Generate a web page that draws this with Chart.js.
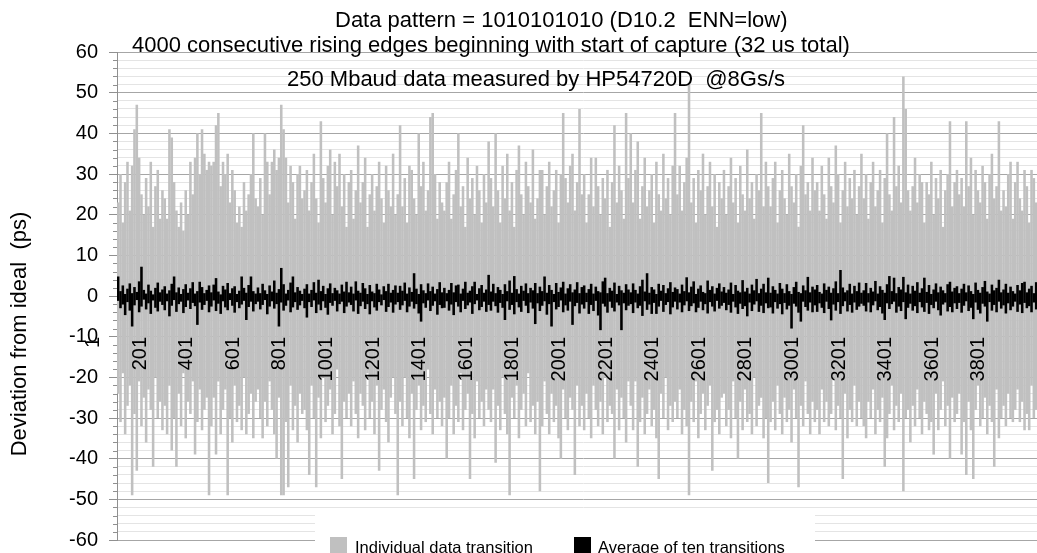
<!DOCTYPE html>
<html><head><meta charset="utf-8">
<script src="https://cdn.jsdelivr.net/npm/chart.js@4.4.0/dist/chart.umd.min.js"></script>
<style>
html,body{margin:0;padding:0;overflow:hidden;background:#fff;width:1037px;height:553px}
#wrap{position:absolute;left:0;top:0;width:1060px;height:570px}
</style>
</head><body><div id="wrap"><canvas id="c" width="1060" height="570"></canvas></div>
<script>
// each bin = 10 consecutive rising edges (400 bins = 4000 edges); values in ps
const grayHigh = [
23,30,18,28,33,21,32,41,47,34,25,20,29,22,33,17,27,31,19,26,
24,19,41,39,28,21,17,23,16,26,20,33,25,34,40,30,41,35,31,33,
32,33,42,45,27,33,30,35,23,31,26,18,22,17,28,21,25,30,40,24,
22,29,20,40,33,25,33,36,31,34,47,41,34,23,32,28,19,30,32,24,
26,31,21,28,35,24,18,43,29,23,32,36,20,33,27,35,22,30,17,28,
31,19,26,37,23,28,34,17,25,30,21,27,33,24,18,32,26,22,35,20,
25,42,22,29,18,32,31,24,20,40,27,33,21,26,44,45,30,19,28,23,
21,28,33,19,25,31,40,22,27,17,34,24,29,20,32,26,18,30,23,38,
29,22,40,26,18,32,24,35,21,28,17,31,37,25,20,33,27,23,36,19,
24,31,31,20,27,33,22,26,31,18,30,45,29,23,32,35,21,28,46,25,
30,18,25,34,22,34,27,20,29,24,31,17,28,42,23,32,26,19,45,29,
40,23,31,38,19,27,34,22,26,30,18,33,25,21,35,24,29,20,32,45,
25,32,21,28,34,52,23,29,18,31,26,35,20,27,33,22,30,17,28,24,
31,20,27,34,23,29,18,32,25,21,36,24,28,19,30,26,45,22,33,27,
22,29,33,18,26,31,24,20,35,27,23,30,17,32,42,25,28,21,34,26,
28,21,32,25,19,34,27,23,37,30,18,26,33,22,29,24,31,20,27,35,
24,30,19,28,33,22,26,31,18,29,40,25,21,44,27,32,23,54,46,26,
21,27,34,23,30,28,18,28,25,33,20,29,24,31,17,26,30,43,22,28,
31,25,29,22,43,27,34,20,31,26,23,32,28,19,30,35,24,27,43,21,
26,22,30,33,19,28,33,24,21,31,27,18,31,29,23,32,25,20,28,24];
const grayLow = [
-24,-31,-19,-34,-27,-22,-49,-29,-43,-21,-32,-25,-36,-23,-28,-42,-20,-30,-26,-33,
-27,-34,-22,-38,-30,-42,-24,-32,-19,-35,-26,-29,-21,-39,-31,-23,-33,-28,-25,-49,
-32,-25,-39,-21,-34,-28,-23,-49,-30,-36,-22,-31,-27,-33,-20,-34,-29,-24,-35,-26,
-23,-30,-35,-26,-32,-21,-28,-34,-40,-25,-49,-49,-31,-47,-22,-33,-27,-36,-24,-29,
-28,-33,-44,-22,-30,-47,-25,-35,-20,-31,-27,-23,-34,-29,-18,-32,-45,-26,-30,-24,
-32,-21,-29,-35,-24,-27,-33,-19,-30,-26,-34,-22,-43,-28,-23,-31,-36,-25,-20,-29,
-49,-26,-32,-20,-30,-35,-24,-45,-28,-22,-33,-27,-31,-18,-29,-34,-23,-30,-26,-32,
-25,-40,-30,-22,-34,-27,-31,-19,-33,-28,-24,-45,-29,-35,-21,-30,-26,-32,-23,-28,
-31,-23,-41,-27,-33,-20,-29,-34,-49,-25,-30,-22,-35,-28,-24,-32,-19,-31,-27,-34,
-26,-48,-32,-21,-29,-34,-24,-31,-27,-35,-40,-23,-30,-33,-25,-28,-44,-22,-32,-27,
-33,-24,-30,-35,-22,-28,-32,-26,-34,-20,-31,-27,-29,-40,-23,-33,-25,-30,-36,-21,
-27,-33,-21,-42,-31,-25,-34,-29,-23,-32,-28,-35,-45,-24,-30,-20,-33,-27,-31,-26,
-30,-23,-34,-28,-32,-49,-26,-31,-21,-35,-29,-24,-33,-27,-22,-43,-31,-28,-34,-25,
-24,-32,-28,-35,-21,-30,-40,-26,-33,-23,-31,-29,-34,-20,-32,-27,-25,-35,-30,-46,
-31,-26,-33,-22,-29,-34,-25,-31,-28,-36,-23,-30,-47,-27,-32,-21,-29,-34,-26,-31,
-28,-34,-23,-31,-26,-32,-29,-20,-33,-27,-30,-45,-24,-35,-28,-31,-22,-32,-26,-30,
-32,-35,-26,-30,-23,-34,-28,-31,-25,-42,-35,-29,-22,-33,-27,-31,-24,-48,-30,-28,
-36,-27,-32,-23,-30,-34,-26,-29,-33,-31,-39,-24,-33,-28,-21,-32,-27,-40,-25,-31,
-29,-24,-39,-31,-44,-26,-33,-45,-28,-22,-32,-30,-25,-34,-27,-31,-42,-23,-35,-30,
-27,-32,-24,-30,-31,-28,-23,-31,-26,-33,-29,-33,-22,-30,-28,-25,-32,-29,-24,-31];
const avgHigh = [
4.8,1.2,2.6,0.5,1.8,3.1,0.7,2.2,1.0,3.6,7.2,1.5,0.6,2.8,1.3,0.4,2.0,3.3,0.9,1.6,
2.4,0.6,1.4,3.0,4.8,0.9,2.1,0.5,1.7,2.9,0.8,1.9,3.4,0.6,1.2,3.5,2.2,0.7,1.5,2.6,
0.9,2.8,4.4,1.1,0.4,2.5,1.6,3.2,0.7,1.9,2.4,0.5,1.3,4.8,2.0,0.8,2.7,4.8,1.2,0.6,
2.1,0.7,3.0,1.4,0.5,2.6,1.1,3.8,0.8,1.7,6.9,2.9,0.6,1.5,3.3,4.8,0.9,2.2,1.3,0.5,
1.8,2.9,0.6,1.5,3.4,0.8,4.0,1.2,2.5,0.5,1.9,3.1,0.7,2.0,1.4,0.6,2.8,1.1,3.5,0.9,
2.3,0.6,3.6,1.3,0.8,3.2,1.9,0.5,2.7,1.1,0.7,3.0,1.6,0.4,2.4,1.2,3.0,0.8,1.5,2.6,
0.8,2.5,1.3,3.3,0.6,2.1,1.0,5.6,1.8,0.5,2.9,1.4,0.7,3.1,1.2,2.3,0.6,1.7,3.4,0.9,
2.0,0.7,1.5,3.2,0.9,2.6,2.8,0.6,1.8,3.5,0.8,1.3,2.4,3.5,0.5,1.9,2.7,0.8,1.6,5.2,
1.1,3.0,0.7,2.2,1.5,0.5,2.9,1.2,3.8,0.8,4.9,1.7,0.6,2.5,1.3,3.1,0.7,2.0,1.4,3.2,
0.7,2.3,1.2,4.8,0.8,2.7,1.5,0.5,3.2,1.0,2.1,3.5,0.6,1.9,2.9,0.9,1.6,3.4,0.7,2.2,
2.6,0.8,1.7,3.0,0.6,2.3,1.2,0.9,3.6,4.5,0.7,2.0,1.3,3.3,0.5,2.5,1.4,0.8,2.9,1.6,
0.9,3.1,1.5,0.6,2.4,4.0,1.1,5.6,0.8,2.2,1.6,0.5,3.0,1.3,2.7,0.7,1.9,3.4,1.0,2.1,
1.7,0.6,2.8,1.2,4.6,0.9,2.3,3.6,0.5,1.8,2.6,1.0,0.7,3.8,1.5,2.4,0.6,2.0,3.1,1.1,
2.2,0.8,1.6,3.3,0.5,2.7,1.3,0.9,3.9,1.1,2.0,0.6,2.8,1.4,4.2,0.7,1.8,3.0,0.9,4.5,
0.8,2.4,1.5,0.6,3.2,1.8,0.7,2.9,1.2,0.5,2.2,3.5,1.0,0.7,2.6,1.4,4.7,0.9,2.3,1.6,
2.7,1.0,0.6,3.1,1.5,2.3,0.8,1.9,3.6,0.7,6.4,2.1,0.9,1.4,3.0,0.6,2.5,1.2,3.3,0.8,
1.4,3.2,0.7,2.0,1.1,3.7,0.6,2.4,1.5,0.8,2.9,4.9,1.2,4.5,0.7,2.2,1.6,4.7,0.9,2.8,
0.6,2.5,1.3,3.4,0.8,1.9,4.5,1.0,2.7,0.5,1.6,3.1,0.9,2.3,1.4,0.7,2.9,3.5,1.1,2.0,
2.4,0.7,1.8,3.0,0.9,2.6,1.2,0.5,3.3,1.5,0.8,2.2,3.7,1.1,0.6,2.8,1.4,2.0,4.0,0.9,
1.6,3.0,0.8,2.3,1.2,0.6,2.7,1.4,3.2,3.5,0.9,1.8,2.5,0.7,3.4,1.3,0.8,2.6,1.1,2.0];
const avgLow = [
-1.2,-3.0,-2.1,-4.7,-1.5,-3.6,-7.5,-2.3,-1.0,-4.0,-2.6,-0.9,-3.3,-1.8,-4.4,-1.1,-2.9,-3.8,-1.4,-2.2,
-3.5,-1.3,-5.0,-2.4,-1.0,-3.9,-2.0,-1.4,-4.2,-2.7,-1.1,-3.2,-1.7,-2.5,-7.1,-1.6,-3.4,-2.2,-1.2,-4.0,
-2.6,-1.1,-3.7,-1.9,-4.4,-1.3,-2.8,-3.5,-1.0,-2.4,-4.1,-1.5,-3.0,-2.1,-1.2,-5.9,-2.7,-1.4,-3.8,-2.0,
-1.4,-3.3,-2.2,-1.0,-4.5,-2.6,-1.3,-3.1,-2.0,-7.5,-1.6,-3.6,-2.4,-1.1,-4.0,-2.8,-1.5,-3.4,-2.3,-1.2,
-3.0,-5.3,-1.5,-2.7,-1.1,-4.2,-2.1,-3.5,-1.3,-2.9,-4.6,-1.7,-2.4,-1.2,-3.8,-2.0,-1.4,-4.2,-2.6,-1.6,
-2.2,-3.8,-1.1,-4.4,-2.5,-1.4,-3.2,-2.0,-4.5,-1.3,-2.8,-3.6,-1.5,-2.3,-1.0,-3.9,-2.7,-1.6,-4.1,-2.1,
-1.5,-3.4,-2.3,-1.2,-4.0,-2.6,-1.4,-3.1,-2.0,-4.3,-6.3,-1.8,-2.9,-1.1,-3.7,-2.4,-1.3,-4.6,-2.2,-3.0,
-2.9,-1.3,-3.6,-2.1,-4.7,-1.5,-2.6,-4.0,-1.2,-3.2,-2.3,-1.6,-4.4,-2.0,-1.1,-3.5,-2.7,-1.4,-3.9,-2.2,
-3.6,-1.4,-2.5,-4.1,-1.7,-2.9,-5.9,-1.3,-3.4,-2.2,-4.5,-1.5,-2.8,-3.9,-1.2,-2.4,-4.2,-1.6,-3.1,-6.9,
-1.8,-3.7,-2.4,-1.3,-4.6,-2.0,-7.5,-1.5,-3.3,-2.7,-1.1,-4.0,-2.3,-3.6,-1.4,-7.1,-2.5,-1.7,-4.3,-2.1,
-3.1,-1.5,-4.4,-2.2,-3.7,-1.2,-4.8,-8.4,-1.9,-2.6,-4.1,-1.4,-2.9,-3.8,-1.6,-2.3,-8.4,-1.8,-3.5,-2.4,
-2.0,-4.2,-1.6,-3.0,-2.4,-4.9,-1.3,-3.4,-2.1,-4.4,-1.7,-4.4,-2.6,-1.2,-3.9,-2.2,-1.5,-4.5,-2.8,-1.4,
-3.3,-1.6,-4.0,-2.3,-1.3,-3.7,-2.5,-1.8,-4.0,-2.9,-1.4,-3.5,-2.0,-4.3,-1.5,-2.6,-3.8,-1.2,-3.1,-2.4,
-1.7,-3.5,-2.2,-4.1,-1.4,-2.8,-4.4,-1.9,-3.2,-2.5,-5.0,-1.6,-3.7,-2.1,-1.3,-3.9,-2.4,-4.2,-1.8,-3.0,
-2.8,-4.3,-1.5,-3.1,-2.0,-4.5,-1.7,-3.3,-2.4,-8.0,-1.9,-2.6,-4.1,-6.3,-1.4,-2.7,-3.6,-1.6,-4.0,-2.3,
-3.9,-1.8,-2.9,-4.2,-1.4,-3.2,-6.0,-2.1,-3.6,-1.5,-4.4,-2.5,-1.3,-3.8,-2.2,-4.1,-1.6,-3.4,-2.6,-1.9,
-2.4,-3.8,-1.6,-4.0,-2.3,-1.3,-3.5,-2.7,-4.3,-5.9,-1.8,-3.2,-2.0,-1.4,-4.1,-2.6,-3.7,-1.5,-5.7,-2.9,
-1.9,-3.6,-2.5,-4.2,-1.5,-2.8,-3.9,-1.7,-4.4,-2.2,-3.0,-1.4,-3.5,-4.8,-2.1,-1.6,-3.8,-2.7,-4.0,-1.8,
-3.2,-1.7,-4.1,-2.4,-1.3,-3.7,-2.9,-5.7,-1.6,-3.4,-4.3,-1.9,-2.6,-6.3,-1.5,-3.6,-2.2,-4.0,-1.4,-3.1,
-2.3,-4.3,-1.8,-3.5,-2.6,-1.4,-3.9,-2.1,-4.2,-1.7,-3.0,-2.5,-4.0,-1.6,-3.3,-2.8,-1.5,-3.7,-2.4,-1.9];
const edgeTickLabels = ['1','201','401','601','801','1001','1201','1401','1601','1801','2001','2201','2401','2601','2801','3001','3201','3401','3601','3801'];
const edgesPerBin = 10;
const binStarts = grayHigh.map((_, i) => i * edgesPerBin + 1);

const titleText = 'Data pattern = 1010101010 (D10.2  ENN=low)';
const subText1 = '4000 consecutive rising edges beginning with start of capture (32 us total)';
const subText2 = '250 Mbaud data measured by HP54720D  @8Gs/s';
const yTitle = 'Deviation from ideal  (ps)';

const FONT = '"Liberation Sans", Arial, sans-serif';
Chart.defaults.font.family = FONT;
Chart.defaults.color = '#000';

const overlay = {
  id: 'overlay',
  afterDraw(chart) {
    const ctx = chart.ctx, ys = chart.scales.y, xs = chart.scales.x;
    const left = chart.chartArea.left;
    ctx.save();
    // minor tick marks
    ctx.strokeStyle = '#909090'; ctx.lineWidth = 1;
    for (let v = -60; v <= 60; v += 2) {
      if (v % 10 === 0) continue;
      const y = Math.round(ys.getPixelForValue(v)) + 0.5;
      ctx.beginPath(); ctx.moveTo(left - 4, y); ctx.lineTo(left, y); ctx.stroke();
    }
    // category labels, rotated, below the zero line
    ctx.fillStyle = '#000';
    ctx.font = '20px ' + FONT;
    ctx.textAlign = 'right'; ctx.textBaseline = 'middle';
    const yTop = ys.getPixelForValue(0) + 41;
    edgeTickLabels.forEach(lbl => {
      const n = parseInt(lbl, 10);
      const x = xs.getPixelForValue((n - 107) / edgesPerBin);
      ctx.save(); ctx.translate(x, yTop); ctx.rotate(-Math.PI / 2);
      ctx.fillText(lbl, 0, 0); ctx.restore();
    });
    // titles
    ctx.textBaseline = 'alphabetic'; ctx.textAlign = 'left';
    ctx.font = '22px ' + FONT;
    ctx.fillText(titleText, 335, 27);
    ctx.fillText(subText1, 132, 52);
    ctx.fillText(subText2, 287, 86);
    // y title
    ctx.save(); ctx.translate(26, 334); ctx.rotate(-Math.PI / 2);
    ctx.textAlign = 'center'; ctx.fillText(yTitle, 0, 0); ctx.restore();
    // legend
    ctx.fillStyle = '#fff'; ctx.fillRect(315, 510, 500, 60);
    ctx.font = '16.5px ' + FONT; ctx.textAlign = 'left';
    const ds = chart.data.datasets;
    const items = [{x: 330, tx: 355}, {x: 574, tx: 598}];
    ds.forEach((d, i) => {
      ctx.fillStyle = d.backgroundColor;
      ctx.fillRect(items[i].x, 537, 17, 17);
      ctx.fillStyle = '#000';
      ctx.fillText(d.label, items[i].tx, 553);
    });
    ctx.restore();
  }
};

new Chart(document.getElementById('c'), {
  type: 'bar',
  data: {
    labels: binStarts,
    datasets: [
      { label: 'Individual data transition', data: grayLow.map((lo, i) => [lo, grayHigh[i]]),
        backgroundColor: '#c0c0c0', borderWidth: 0, barPercentage: 1.1, categoryPercentage: 1, grouped: false, order: 2 },
      { label: 'Average of ten transitions', data: avgLow.map((lo, i) => [lo, avgHigh[i]]),
        backgroundColor: '#000000', borderWidth: 0, barPercentage: 1.1, categoryPercentage: 1, grouped: false, order: 1 }
    ]
  },
  options: {
    responsive: false, animation: false, devicePixelRatio: 1,
    layout: { padding: { left: 0, right: 11, top: 52, bottom: 30 } },
    plugins: { legend: { display: false }, tooltip: { enabled: false }, title: { display: false } },
    scales: {
      x: { type: 'category', display: false, offset: true, grid: { display: false } },
      y: {
        min: -60, max: 60,
        afterFit(s) { s.width = 117; },
        ticks: { stepSize: 2, autoSkip: false, padding: 11, color: '#000', font: { size: 20 },
          callback: v => (v % 10 === 0 ? String(v) : '') },
        grid: {
          color: c => (c.tick && c.tick.value % 10 === 0 ? '#a6a6a6' : '#e4e4e4'),
          tickColor: c => (c.tick && c.tick.value % 10 === 0 ? '#909090' : 'rgba(0,0,0,0)'),
          tickLength: 8, lineWidth: 1
        },
        border: { color: '#909090' }
      }
    }
  },
  plugins: [overlay]
});
</script>
</body></html>
